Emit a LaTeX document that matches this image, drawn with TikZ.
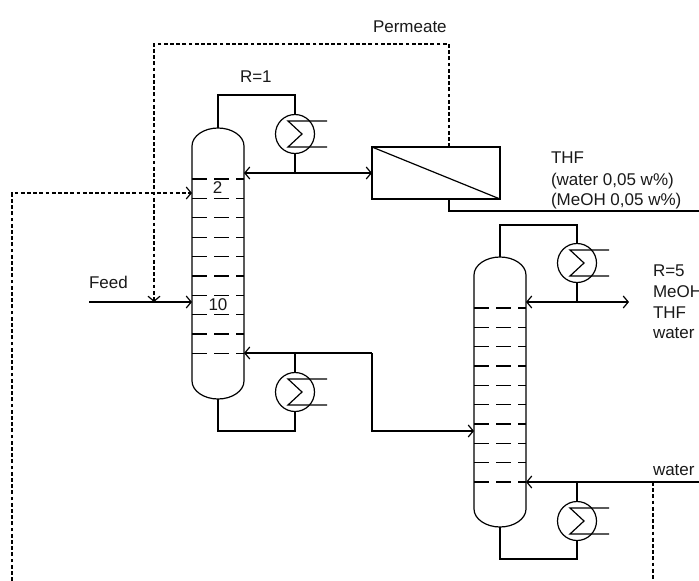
\documentclass[tikz,border=0pt]{standalone}
\usepackage{fontspec}
\setmainfont{Liberation Sans}
\usetikzlibrary{arrows.meta}
\tikzset{
  pipe/.style={line width=1.2pt,line join=miter},
  flow/.style={pipe,-{Straight Barb[length=5pt,width=12pt,line width=1.2pt]}},
  bothflow/.style={pipe,{Straight Barb[length=5pt,width=12pt,line width=1.2pt]}-{Straight Barb[length=5pt,width=12pt,line width=1.2pt]}},
  dashline/.style={line width=1.2pt,dash pattern=on 3.8pt off 2.4pt},
  dashflow/.style={dashline,-{Straight Barb[length=5pt,width=12pt,line width=1.2pt]}},
  hx/.style={circle,draw,line width=1.2pt,minimum size=39pt,inner sep=0pt,outer sep=0pt},
  colbody/.style={inner sep=0pt,outer sep=0pt,minimum width=52pt},
  membrane/.style={rectangle,draw,line width=1.2pt,inner sep=0pt,outer sep=0pt,minimum width=128pt,minimum height=52pt},
  lbl/.style={inner sep=0pt,outer sep=0pt,anchor=base west,font=\fontsize{17}{20}\selectfont,text=black!90},
  lblc/.style={lbl,anchor=base},
  column/.pic={
    \draw[pipe] (-26,#1) -- (-26,-#1) .. controls (-26,-#1-10) and (-14,-#1-18) .. (0,-#1-18)
      .. controls (14,-#1-18) and (26,-#1-10) .. (26,-#1)
      -- (26,#1) .. controls (26,#1+10) and (14,#1+18) .. (0,#1+18)
      .. controls (-14,#1+18) and (-26,#1+10) .. (-26,#1);
  },
  sigma/.pic={
    \draw[pipe] (32,-13) -- (-7,-13) -- (7,0) -- (-7,13) -- (32,13);
  },
  tray/.pic={
    \draw[pipe] (-26,0) -- (-11,0) (-4,0) -- (11,0) (18,0) -- (26,0);
  }
}
\begin{document}
\begin{tikzpicture}[x=1pt,y=-1pt]
\useasboundingbox (0,0) rectangle (699,581);

% bodies
\node[colbody,minimum height=271pt] (c1) at (218,263.5) {};
\node[colbody,minimum height=270pt] (c2) at (500,392) {};
\pic at (218,263.5) {column=117.5};
\pic at (500,392) {column=117};
\foreach \y in {179,198.4,217.8,237.2,256.6,276,295.4,314.8,334,353.4} \pic at (218,\y) {tray};
\foreach \y in {308,327.4,346.8,366,385.4,404.8,424,443.4,462.8,482} \pic at (500,\y) {tray};

% exchangers
\node[hx] (e1) at (295,134) {};
\node[hx] (e2) at (295,392) {};
\node[hx] (e3) at (577,263) {};
\node[hx] (e4) at (577,521) {};
\pic at (295,134) {sigma};
\pic at (295,392) {sigma};
\pic at (577,263) {sigma};
\pic at (577,521) {sigma};

% membrane
\node[membrane] (m) at (436,173) {};
\draw[pipe] (m.north west) -- (m.south east);

% free ends
\coordinate (feedstart) at (89,302);
\coordinate (thfend) at (699,211);
\coordinate (topout) at (629,302);
\coordinate (waterin) at (699,482);
\coordinate (leftend) at (12,581);
\coordinate (waterend) at (653,581);
\coordinate (permbranch) at (154,302);
\coordinate (waterjoin) at (653,482);
\coordinate (m1) at (449,147);
\coordinate (m2) at (449,199);

% solid connectors
\draw[pipe] (c1.north) |- (e1.north |- 0,95) -- (e1.north);
\draw[pipe] (e1.south) -- (e1.south |- 0,173);
\draw[bothflow] (c1.east |- 0,173) -- (m.west);
\draw[pipe] (c1.south) -- (218,431) -| (e2.south);
\draw[pipe] (e2.north) -- (e2.north |- 0,353);
\draw[flow] (372,353) -- (c1.east |- 0,353);
\draw[flow] (372,353) -- (372,431) -- (c2.west |- 0,431);
\draw[flow] (feedstart) -- (c1.west |- feedstart);
\draw[pipe] (m2) |- (thfend);

\draw[pipe] (c2.north) |- (e3.north |- 0,225) -- (e3.north);
\draw[pipe] (e3.south) -- (e3.south |- 0,302);
\draw[bothflow] (c2.east |- 0,302) -- (topout);
\draw[pipe] (c2.south) -- (500,559) -| (e4.south);
\draw[pipe] (e4.north) -- (e4.north |- 0,482);
\draw[flow] (waterin) -- (c2.east |- waterin);

% dashed connectors
\draw[dashflow] (m1) -- (449,44) -- (154,44) -- (permbranch);
\draw[dashflow] (leftend) -- (12,193) -- (c1.west |- 0,193);
\draw[dashline] (waterjoin) -- (waterend);

% labels
\node[lbl] (lperm) at (373,32) {Permeate};
\node[lbl] (lr1) at (240,82) {R=1};
\node[lbl] (lfeed) at (89,288) {Feed};
\node[lblc] (l2) at (217.5,193) {2};
\node[lblc] (l10) at (218,310) {10};
\node[lbl] (lt1) at (551,163) {THF};
\node[lbl] (lt2) at (551,185) {(water 0,05 w\%)};
\node[lbl] (lt3) at (551,205) {(MeOH 0,05 w\%)};
\node[lbl] (lr5) at (653,276) {R=5};
\node[lbl] (lm) at (653,297) {MeOH};
\node[lbl] (lt) at (653,318) {THF};
\node[lbl] (lw) at (653,338) {water};
\node[lbl] (lw2) at (653,475) {water};
\end{tikzpicture}
\end{document}
